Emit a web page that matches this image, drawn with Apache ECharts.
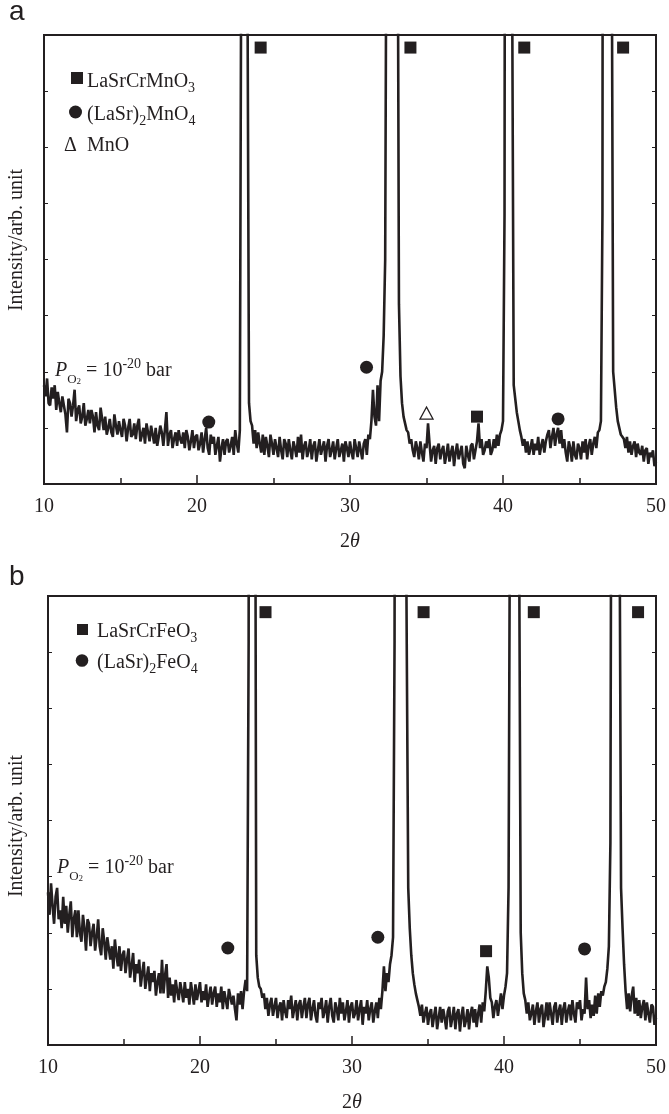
<!DOCTYPE html>
<html>
<head>
<meta charset="utf-8">
<title>XRD LaSrCrMnO3 / LaSrCrFeO3</title>
<script src="https://cdn.jsdelivr.net/npm/echarts@6/dist/echarts.min.js"></script>
<style>
  html, body { margin: 0; padding: 0; background: #fff; }
  #chart { width: 669px; height: 1114px; }
</style>
</head>
<body>
<div id="chart"></div>
<script>
// scan: 10..50 deg 2theta, one reading every 0.1 deg
const thetaStart = 10;
const thetaStep = 0.1;

// panel a : LaSrCrMnO3 after PO2 = 1e-20 bar (arb. unit, 100 = top of frame)
const intensityA = [
  22, 19.5, 23.5, 18, 17.5, 21.5, 19, 22, 16.5, 20.5,
  18, 16, 19.5, 17.5, 15.5, 11.5, 19, 18, 15, 17.5,
  21, 14, 16.5, 17.5, 13.5, 15, 18, 13, 14.5, 16.5,
  13.5, 16.5, 15, 11.5, 16, 13, 12, 17, 14.5, 12,
  15, 11, 12.5, 14.5, 11.5, 10.5, 15.5, 13, 11, 14,
  12, 10.5, 14.5, 13, 9.5, 12.5, 14.5, 10.5, 11, 13.5,
  10, 13, 14.5, 9.5, 11, 12.5, 9, 13.5, 11.5, 9.5,
  13, 11, 9, 12.5, 8.5, 10.5, 13, 11.5, 8.5, 12,
  16, 8.5, 11, 12, 8, 10, 11.5, 8.5, 12, 10,
  9, 11.5, 8, 12, 10.5, 7.5, 9.5, 12, 8, 10.5,
  11, 7.5, 9, 11.5, 7, 10, 12.5, 8, 6.5, 11,
  9, 10.5, 6.5, 8.5, 10.5, 5, 8, 10, 6.5, 9.5,
  10, 7, 8.5, 10.5, 6.5, 12, 9, 7, 12, 130,
  700, 900, 600, 110, 18, 14, 13, 9, 12, 8,
  11.5, 9, 7, 11, 6.5, 10.5, 8.5, 6, 11, 9,
  6.5, 10, 8, 6, 10.5, 7.5, 5.5, 10, 9, 6,
  10, 7.5, 5.5, 9.5, 8, 6, 10.5, 7, 11, 5.5,
  8.5, 9.5, 6, 7.5, 10, 5.5, 8.5, 9.5, 5, 7.5,
  10, 6.5, 8, 9.5, 5, 8.5, 10, 6, 7.5, 9.5,
  5.5, 8, 10, 6, 7.5, 9, 5, 9.5, 8, 6,
  9.5, 7, 5.5, 10, 8, 6, 9.5, 7.5, 5.5, 9,
  10, 6.5, 11, 10, 14, 21, 15, 13, 22, 14,
  23, 25, 33, 50, 150, 500, 800, 1000, 900, 700,
  400, 150, 40, 24, 18, 15, 13.5, 12, 11.5, 9,
  10, 7.5, 6, 9.5, 8, 5.5, 9.5, 7, 5, 9,
  8, 13.5, 9, 5, 7.5, 8.5, 4.5, 8, 9, 5.5,
  7.5, 8.5, 4.5, 6.5, 9, 5, 7, 8.5, 4, 7,
  9, 5.5, 7, 8.5, 4.5, 3.5, 8.5, 6.5, 5, 8.5,
  9, 5.5, 7.5, 9.5, 13.5, 8, 10, 6.5, 7.5, 9.5,
  8, 10, 6.5, 7.5, 10, 8, 11, 8.5, 11, 12,
  14, 60, 400, 1000, 900, 400, 110, 22, 19, 16,
  14, 12, 10.5, 8.5, 10, 7, 9.5, 6.5, 8, 10,
  6.5, 9, 7.5, 10.5, 6.5, 8.5, 10, 7, 9.5, 11,
  12, 8, 10.5, 12.5, 8.5, 11, 12.5, 9, 12, 8,
  10, 7, 5, 9.5, 8, 5, 9.5, 6.5, 5.5, 9,
  8, 5.5, 9.5, 7, 10, 5.5, 8.5, 10, 6.5, 9,
  10.5, 8, 11.5, 12, 14, 60, 500, 1000, 1000, 700,
  400, 130, 25, 21, 17, 14, 12.5, 11, 10.5, 10,
  8, 10.5, 7, 9.5, 6.5, 8.5, 9.5, 6, 9, 7,
  6.5, 8.5, 5, 7.5, 8, 4.5, 7, 6, 7.5, 4,
  5
];

// panel b : LaSrCrFeO3 after PO2 = 1e-20 bar
const intensityB = [
  34, 29, 36, 31, 27, 33, 35, 28, 30, 26,
  33, 27, 31, 25, 29, 32, 24, 28, 30, 24,
  30, 25, 23, 29, 26, 21, 28, 27, 22, 25,
  27, 21, 24, 28, 22, 20, 26, 23, 19, 24,
  24, 19, 22, 17, 23.5, 20, 17.5, 22, 16.5, 20,
  21, 16, 19, 21.5, 15, 17.5, 20.5, 14, 18, 16,
  19, 13, 16, 18.5, 12.5, 15, 17.5, 12, 16, 14,
  16.5, 11, 14, 16, 11.5, 19, 11.5, 15.5, 18, 10.5,
  15, 11, 13.5, 9.5, 14.5, 12, 10, 14, 12, 9.5,
  14, 10.5, 12.5, 9, 14, 11.5, 9, 13.5, 10, 12,
  14, 9.5, 12, 10, 13.5, 8.5, 11, 13, 9, 11.5,
  13, 8.5, 11.5, 9.5, 13, 8, 12, 10, 8, 12.5,
  12.5, 9, 11, 8, 5.5, 11.5, 9, 12, 8, 12,
  14.5, 12, 90, 500, 1000, 600, 200, 20, 15, 13,
  12.5, 10.5, 11.5, 8, 10.5, 6.5, 9, 10.5, 6.5, 8.5,
  10.5, 6, 8.5, 9.5, 5.5, 10, 7.5, 6, 10, 8,
  11, 6, 8, 10, 5.5, 9, 10, 6, 8.5, 10.5,
  6, 9, 10.5, 5.5, 8, 10, 6.5, 5, 9.5, 8,
  10.5, 6, 7.5, 10, 5, 8.5, 10.5, 6.5, 5, 9.5,
  8, 5.5, 10.5, 7, 9.5, 5.5, 7.5, 10, 5, 8.5,
  9.5, 6, 7, 10, 5.5, 8, 10, 4.5, 8.5, 7,
  10, 5.5, 8, 9.5, 5, 7.5, 9.5, 6, 10.5, 8,
  12, 17.5, 12, 16, 14, 18, 20, 24, 90, 400,
  900, 1000, 800, 500, 250, 150, 90, 35, 26, 20,
  16, 13.5, 11.5, 10, 8.5, 6.5, 9, 5, 7, 8.5,
  4.5, 7, 8, 4, 6.5, 8.5, 3.5, 6, 8.5, 5,
  8, 6, 3.5, 7.5, 8.5, 4, 6, 8.5, 3.5, 7,
  8, 3, 6.5, 8.5, 4, 5.5, 8, 3.5, 7, 8.5,
  5, 8, 4, 7, 9, 5, 9.5, 7.5, 12, 17.5,
  15, 10.5, 9.5, 6, 8.5, 10, 6.5, 9, 11.5, 8,
  11, 13, 16, 35, 130, 600, 1000, 1000, 700, 350,
  110, 25, 16, 11.5, 10, 7, 9.5, 5.5, 7, 9,
  4.5, 7.5, 9.5, 5, 8, 9, 4, 6.5, 9.5, 5.5,
  9.5, 7, 4.5, 8.5, 9.5, 5, 7.5, 9, 4.5, 8,
  9.5, 5, 7.5, 9, 5.5, 10, 7, 5, 9.5, 8,
  10, 5.5, 8, 7, 15, 8, 10, 6, 9, 6.5,
  11, 7, 11.5, 8.5, 12, 11, 13, 14, 17, 22,
  45, 200, 800, 1000, 900, 500, 120, 35, 26, 18,
  12, 8, 11.5, 7.5, 11, 13, 7, 10.5, 6.5, 10,
  6, 8.5, 10, 5.5, 9.5, 7, 5, 9, 8.5, 4.5,
  6
];

// phase markers [2theta, height]
const squaresA   = [[24.16, 97.2], [33.95, 97.2], [41.39, 97.2], [47.85, 97.2], [38.3, 15]];
const circlesA   = [[20.77, 13.8], [31.08, 26], [43.6, 14.5]];
const trianglesA = [[35.0, 15.8]];
const squaresB   = [[24.31, 96.4], [34.71, 96.4], [41.96, 96.4], [48.82, 96.4], [38.82, 20.9]];
const circlesB   = [[21.83, 21.6], [31.7, 24], [45.3, 21.4]];

// axis range / tick labels
const xMin = 10, xMax = 50, xInterval = 10;
const yMin = 0, yMax = 100, yInterval = 12.5;

const ink = '#231f20';
const serif = '"Liberation Serif", "Times New Roman", serif';
const sans = '"Liberation Sans", Arial, sans-serif';

const toPoints = (arr) => arr.map((v, i) => [+(thetaStart + i * thetaStep).toFixed(1), v]);

// rich text pieces, shifted down with top padding to get sub/superscripts
const tok = (size, padTop, italic) => ({
  fontFamily: serif, fontSize: size, fontStyle: italic ? 'italic' : 'normal',
  verticalAlign: 'top', padding: [padTop, 0, 0, 0], fill: ink, color: ink
});
const rich = {
  n: tok(20, 6),
  i: tok(20, 6, true),
  sub: tok(14, 15),
  s1: tok(13, 18),
  s2: tok(9, 22),
  sup: tok(14, 2)
};

const txt = (x, y, text) => ({
  type: 'text', x, y,
  style: { text, rich, fill: ink, fontFamily: serif, fontSize: 20,
    align: 'left', verticalAlign: 'top', textAlign: 'left', textVerticalAlign: 'top' }
});

const xAxisFor = (gridIndex) => ({
  type: 'value', gridIndex, min: xMin, max: xMax, interval: xInterval,
  axisLine: { show: true, onZero: false, lineStyle: { color: ink, width: 2 } },
  axisTick: { show: true, inside: true, length: 9, lineStyle: { color: ink, width: 1.5 } },
  minorTick: { show: true, splitNumber: 2, length: 6, lineStyle: { color: ink, width: 1.5 } },
  axisLabel: { margin: 13, fontSize: 20, fontFamily: serif, color: ink },
  splitLine: { show: false },
  name: '{n|2}{i|θ}', nameLocation: 'middle', nameGap: 48,
  nameTextStyle: { rich: { n: { fontFamily: serif, fontSize: 20, color: ink },
                           i: { fontFamily: serif, fontSize: 20, fontStyle: 'italic', color: ink } } }
});

const yAxisFor = (gridIndex, position) => ({
  type: 'value', gridIndex, position, min: yMin, max: yMax, interval: yInterval,
  axisLine: { show: true, onZero: false, lineStyle: { color: ink, width: 2 } },
  axisTick: { show: true, inside: true, length: 4, lineStyle: { color: ink, width: 1 } },
  axisLabel: { show: false },
  splitLine: { show: false }
});

const scatter = (xi, yi, data, symbol, size, hollow) => ({
  type: 'scatter', xAxisIndex: xi, yAxisIndex: yi, data, symbol, symbolSize: size,
  itemStyle: hollow
    ? { color: '#fff', borderColor: ink, borderWidth: 1.3, opacity: 1 }
    : { color: ink, opacity: 1 },
  silent: true
});

const lineSeries = (xi, yi, arr) => ({
  type: 'line', xAxisIndex: xi, yAxisIndex: yi, data: toPoints(arr),
  showSymbol: false, symbol: 'none', clip: true,
  lineStyle: { color: ink, width: 2.6 }
});

const chart = echarts.init(document.getElementById('chart'), null, { renderer: 'canvas' });
chart.setOption({
  animation: false,
  backgroundColor: '#fff',
  grid: [
    { left: 44, top: 35, width: 613, height: 449, show: true, borderColor: ink, borderWidth: 2 },
    { left: 48, top: 596, width: 612, height: 449, show: true, borderColor: ink, borderWidth: 2 }
  ],
  xAxis: [xAxisFor(0), xAxisFor(1)],
  yAxis: [yAxisFor(0, 'left'), yAxisFor(0, 'right'), yAxisFor(1, 'left'), yAxisFor(1, 'right')],
  series: [
    lineSeries(0, 0, intensityA),
    scatter(0, 0, squaresA, 'rect', 12),
    scatter(0, 0, circlesA, 'circle', 13),
    scatter(0, 0, trianglesA, 'triangle', [13, 12], true),
    lineSeries(1, 2, intensityB),
    scatter(1, 2, squaresB, 'rect', 12),
    scatter(1, 2, circlesB, 'circle', 13)
  ],
  graphic: [
    // panel letters
    { type: 'text', x: 9, y: 12, style: { text: 'a', fill: ink, fontFamily: sans, fontSize: 28,
      verticalAlign: 'middle', textVerticalAlign: 'middle' } },
    { type: 'text', x: 9, y: 577, style: { text: 'b', fill: ink, fontFamily: sans, fontSize: 28,
      verticalAlign: 'middle', textVerticalAlign: 'middle' } },
    // y titles
    { type: 'text', x: 17, y: 240, rotation: Math.PI / 2,
      style: { text: 'Intensity/arb. unit', fill: ink, fontFamily: serif, fontSize: 20,
        align: 'center', verticalAlign: 'middle', textAlign: 'center', textVerticalAlign: 'middle' } },
    { type: 'text', x: 17, y: 826, rotation: Math.PI / 2,
      style: { text: 'Intensity/arb. unit', fill: ink, fontFamily: serif, fontSize: 20,
        align: 'center', verticalAlign: 'middle', textAlign: 'center', textVerticalAlign: 'middle' } },
    // legend a
    { type: 'rect', shape: { x: 71, y: 72, width: 12, height: 12 }, style: { fill: ink } },
    txt(87, 66, '{n|LaSrCrMnO}{sub|3}'),
    { type: 'circle', shape: { cx: 75.5, cy: 112, r: 6.5 }, style: { fill: ink } },
    txt(87, 99, '{n|(LaSr)}{sub|2}{n|MnO}{sub|4}'),
    txt(64, 130, '{n|Δ}'),
    txt(87, 130, '{n|MnO}'),
    txt(55, 355, '{i|P}{s1|O}{s2|2}{n| = 10}{sup|-20}{n| bar}'),
    // legend b
    { type: 'rect', shape: { x: 77, y: 624, width: 11, height: 11 }, style: { fill: ink } },
    txt(97, 616, '{n|LaSrCrFeO}{sub|3}'),
    { type: 'circle', shape: { cx: 82, cy: 660.5, r: 6.3 }, style: { fill: ink } },
    txt(97, 647, '{n|(LaSr)}{sub|2}{n|FeO}{sub|4}'),
    txt(57, 852, '{i|P}{s1|O}{s2|2}{n| = 10}{sup|-20}{n| bar}')
  ]
});
</script>
</body>
</html>
